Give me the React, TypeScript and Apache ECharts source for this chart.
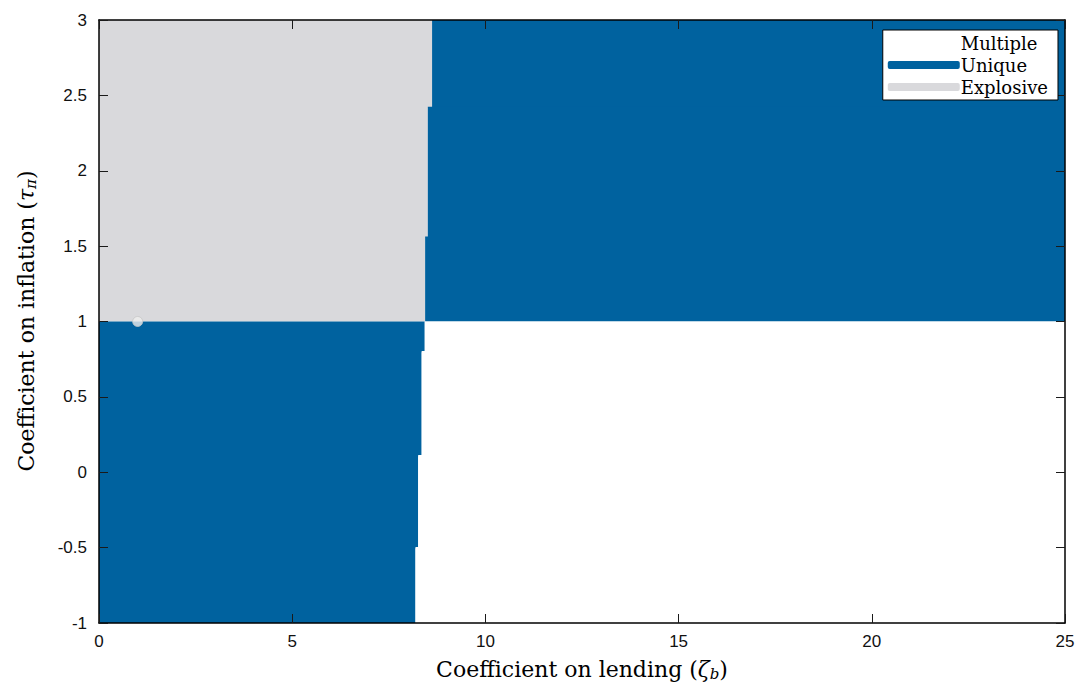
import React, { useEffect, useRef } from "react";
import * as echarts from "echarts";

// Stability regions: horizontal bands [yLow, yHigh, boundary on lending]
const bandLow = [2.42, 1.56, 1.0, 0.8, 0.11, -0.5, -1.0];
const bandHigh = [3.0, 2.42, 1.56, 1.0, 0.8, 0.11, -0.5];
const bandBoundary = [8.62, 8.51, 8.44, 8.43, 8.35, 8.26, 8.19];
const inflationThreshold = 1.0;

const xTicks = [0, 5, 10, 15, 20, 25];
const yTicks = [-1, -0.5, 0, 0.5, 1, 1.5, 2, 2.5, 3];
const legendNames = ["Multiple", "Unique", "Explosive"];
const markerPoint = [1, 1];
const xTitle = "{t|Coefficient on lending (}{i|ζ}{s|b}{t|)}";
const yTitle = "{t|Coefficient on inflation (}{i|τ}{s|π}{t|)}";

const BLUE = "#00629f";
const GRAY = "#d9d9dc";
const X_MAX = 25;
const X_MIN = 0;

export default function App() {
  const ref = useRef<HTMLDivElement>(null);
  useEffect(() => {
    document.body.style.margin = "0";
    const chart = echarts.init(ref.current!, null, { renderer: "svg" });
    const bandData = bandLow.map((lo, i) => [lo, bandHigh[i], bandBoundary[i]]);
    const serifFont = "DejaVu Serif";
    const sansFont = "Liberation Sans";
    const richStyles = {
      t: { fontSize: 22, fontFamily: serifFont, fill: "#000" },
      i: { fontSize: 22, fontStyle: "italic", fontFamily: serifFont, fill: "#000" },
      s: { fontSize: 15, fontStyle: "italic", fontFamily: serifFont, fill: "#000", padding: [10, 0, 0, 0] },
    };
    const axisCommon = {
      axisLine: { show: true, onZero: false, lineStyle: { color: "#000", width: 1.5 } },
      axisTick: { show: true, inside: true, length: 9, lineStyle: { color: "#1a1a1a", width: 1 } },
      splitLine: { show: false },
      z: 10,
    };
    const option: any = {
      animation: false,
      backgroundColor: "#ffffff",
      textStyle: { fontFamily: serifFont },
      grid: { left: 99, right: 13, top: 20, bottom: 65, containLabel: false },
      xAxis: [
        {
          ...axisCommon,
          type: "value",
          min: X_MIN,
          max: X_MAX,
          interval: 5,
          position: "bottom",
          axisLabel: { color: "#111", fontSize: 17, fontFamily: sansFont, margin: 10 },
        },
        {
          ...axisCommon,
          type: "value",
          min: X_MIN,
          max: X_MAX,
          interval: 5,
          position: "top",
          axisLabel: { show: false },
        },
      ],
      yAxis: [
        {
          ...axisCommon,
          type: "value",
          min: -1,
          max: 3,
          interval: 0.5,
          position: "left",
          axisLabel: { color: "#111", fontSize: 17, fontFamily: sansFont, margin: 12 },
        },
        {
          ...axisCommon,
          type: "value",
          min: -1,
          max: 3,
          interval: 0.5,
          position: "right",
          axisLabel: { show: false },
        },
      ],
      graphic: [
        {
          type: "text",
          x: 582,
          y: 669,
          style: {
            text: xTitle,
            rich: richStyles,
            fontFamily: serifFont,
            fontSize: 22,
            fill: "#000",
            align: "center",
            verticalAlign: "middle",
          },
          z: 30,
        },
        {
          type: "text",
          x: 26,
          y: 321,
          rotation: Math.PI / 2,
          style: {
            text: yTitle,
            rich: richStyles,
            fontFamily: serifFont,
            fontSize: 22,
            fill: "#000",
            align: "center",
            verticalAlign: "middle",
          },
          z: 30,
        },
      ],
      legend: {
        orient: "vertical",
        right: 20,
        top: 30,
        backgroundColor: "#fff",
        borderColor: "#000",
        borderWidth: 1,
        borderRadius: 0,
        padding: [4, 10, 4, 5],
        itemGap: 4,
        itemWidth: 72,
        itemHeight: 8,
        icon: "roundRect",
        data: legendNames,
        textStyle: { fontFamily: serifFont, fontSize: 18, color: "#000", padding: [0, 0, 0, -4] },
        selectedMode: false,
        z: 20,
      },
      series: [
        {
          type: "custom",
          name: "regions",
          xAxisIndex: 0,
          yAxisIndex: 0,
          data: bandData,
          clip: true,
          renderItem: (params: any, api: any) => {
            const lo = api.value(0);
            const hi = api.value(1);
            const bx = api.value(2);
            const above = lo >= inflationThreshold;
            const p0 = api.coord([X_MIN, hi]);
            const pb = api.coord([bx, lo]);
            const p1 = api.coord([X_MAX, lo]);
            const leftColor = above ? GRAY : BLUE;
            const rightColor = above ? BLUE : "#ffffff";
            const top = p0[1] - (above || hi < inflationThreshold ? 0.6 : 0);
            const bottom = p1[1] + (lo > -1 && !(lo === inflationThreshold) ? 0.6 : 0);
            return {
              type: "group",
              children: [
                {
                  type: "rect",
                  shape: { x: p0[0] - 1, y: top, width: pb[0] - p0[0] + 1, height: bottom - top },
                  style: { fill: leftColor },
                },
                {
                  type: "rect",
                  shape: { x: pb[0], y: top, width: p1[0] - pb[0] + 1, height: bottom - top },
                  style: { fill: rightColor },
                },
              ],
            };
          },
          z: 1,
        },
        {
          type: "scatter",
          name: "point",
          data: [markerPoint],
          symbolSize: 10,
          itemStyle: { color: "#eeeeee", borderColor: "#c8c8c8", borderWidth: 1 },
          z: 5,
        },
        { type: "line", name: "Multiple", data: [], color: "#ffffff", lineStyle: { color: "#ffffff" } },
        { type: "line", name: "Unique", data: [], color: BLUE, lineStyle: { color: BLUE } },
        { type: "line", name: "Explosive", data: [], color: GRAY, lineStyle: { color: GRAY } },
      ],
    };
    chart.setOption(option);
    return () => chart.dispose();
  }, []);
  return <div ref={ref} style={{ width: 1078, height: 688 }} />;
}
